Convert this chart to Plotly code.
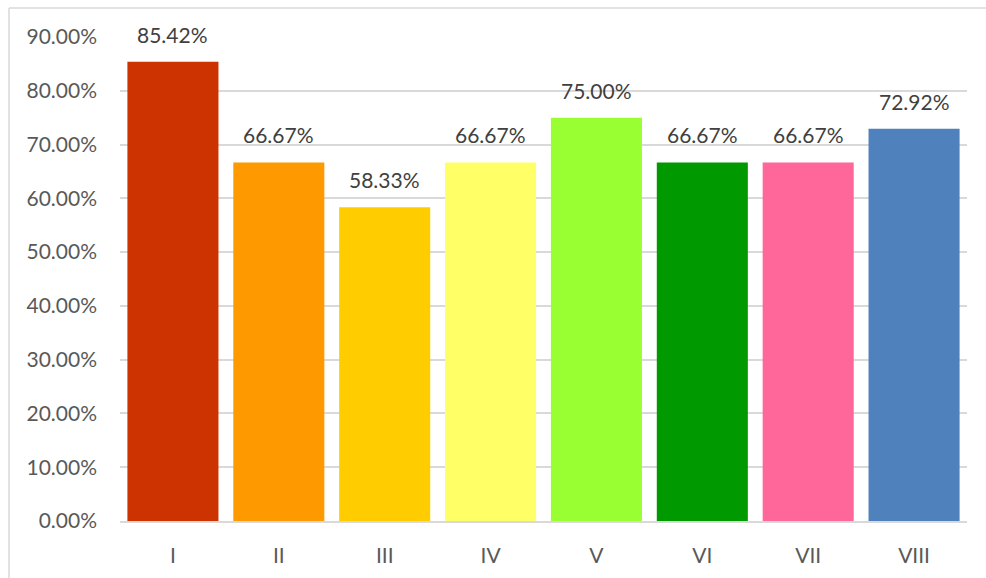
import plotly.graph_objects as go

categories = ["I", "II", "III", "IV", "V", "VI", "VII", "VIII"]
values = [0.8542, 0.6667, 0.5833, 0.6667, 0.75, 0.6667, 0.6667, 0.7292]
colors = ["#CC3300", "#FF9900", "#FFCC00", "#FFFF66", "#99FF33", "#009900", "#FF6699", "#4F81BD"]
tick_vals = [0, 0.1, 0.2, 0.3, 0.4, 0.5, 0.6, 0.7, 0.8, 0.9]
tick_text = ["%.2f%%" % (v * 100) for v in tick_vals]

FONT = "Lato, 'Open Sans', sans-serif"
FS = 21

fig = go.Figure(go.Bar(x=categories, y=values, marker=dict(color=colors, line=dict(width=0)),
                       hoverinfo="x+y"))

for c, v in zip(categories, values):
    fig.add_annotation(x=c, y=v, text="%.2f%%" % (v * 100), showarrow=False,
                       yanchor="bottom", yshift=13,
                       font=dict(family=FONT, size=FS, color="#404040"))

W, H = 986, 578
ml, mr, mt, mb = 120, 19, 37, 57
pw, ph = W - ml - mr, H - mt - mb
# chart-area border (top and left edges visible)
bx = (9 - ml) / pw
by = 1 + (mt - 8) / ph
fig.add_shape(type="line", xref="paper", yref="paper", x0=bx, x1=1.2, y0=by, y1=by,
              line=dict(color="#D9D9D9", width=1.5))
fig.add_shape(type="line", xref="paper", yref="paper", x0=bx, x1=bx, y0=by, y1=-0.3,
              line=dict(color="#D9D9D9", width=1.5))

fig.update_layout(
    width=W, height=H,
    margin=dict(l=ml, r=mr, t=mt, b=mb, autoexpand=False),
    paper_bgcolor="white", plot_bgcolor="white",
    bargap=0.14,
    showlegend=False,
    font=dict(family=FONT, size=FS, color="#595959"),
    xaxis=dict(showgrid=False, showline=True, linecolor="#D9D9D9", linewidth=1.5,
               automargin=False,
               ticks="", ticklabelstandoff=15, tickfont=dict(size=FS, color="#595959")),
    yaxis=dict(range=[0, 0.9], tickvals=tick_vals, ticktext=tick_text,
               showgrid=True, gridcolor="#D9D9D9", gridwidth=1.5, zeroline=False,
               automargin=False,
               showline=False, ticks="", ticklabelstandoff=22,
               tickfont=dict(size=FS, color="#595959")),
)

fig.write_html("out.html", config={"displayModeBar": False},
               post_script="document.body.style.margin='0px';document.body.style.overflow='hidden';")
